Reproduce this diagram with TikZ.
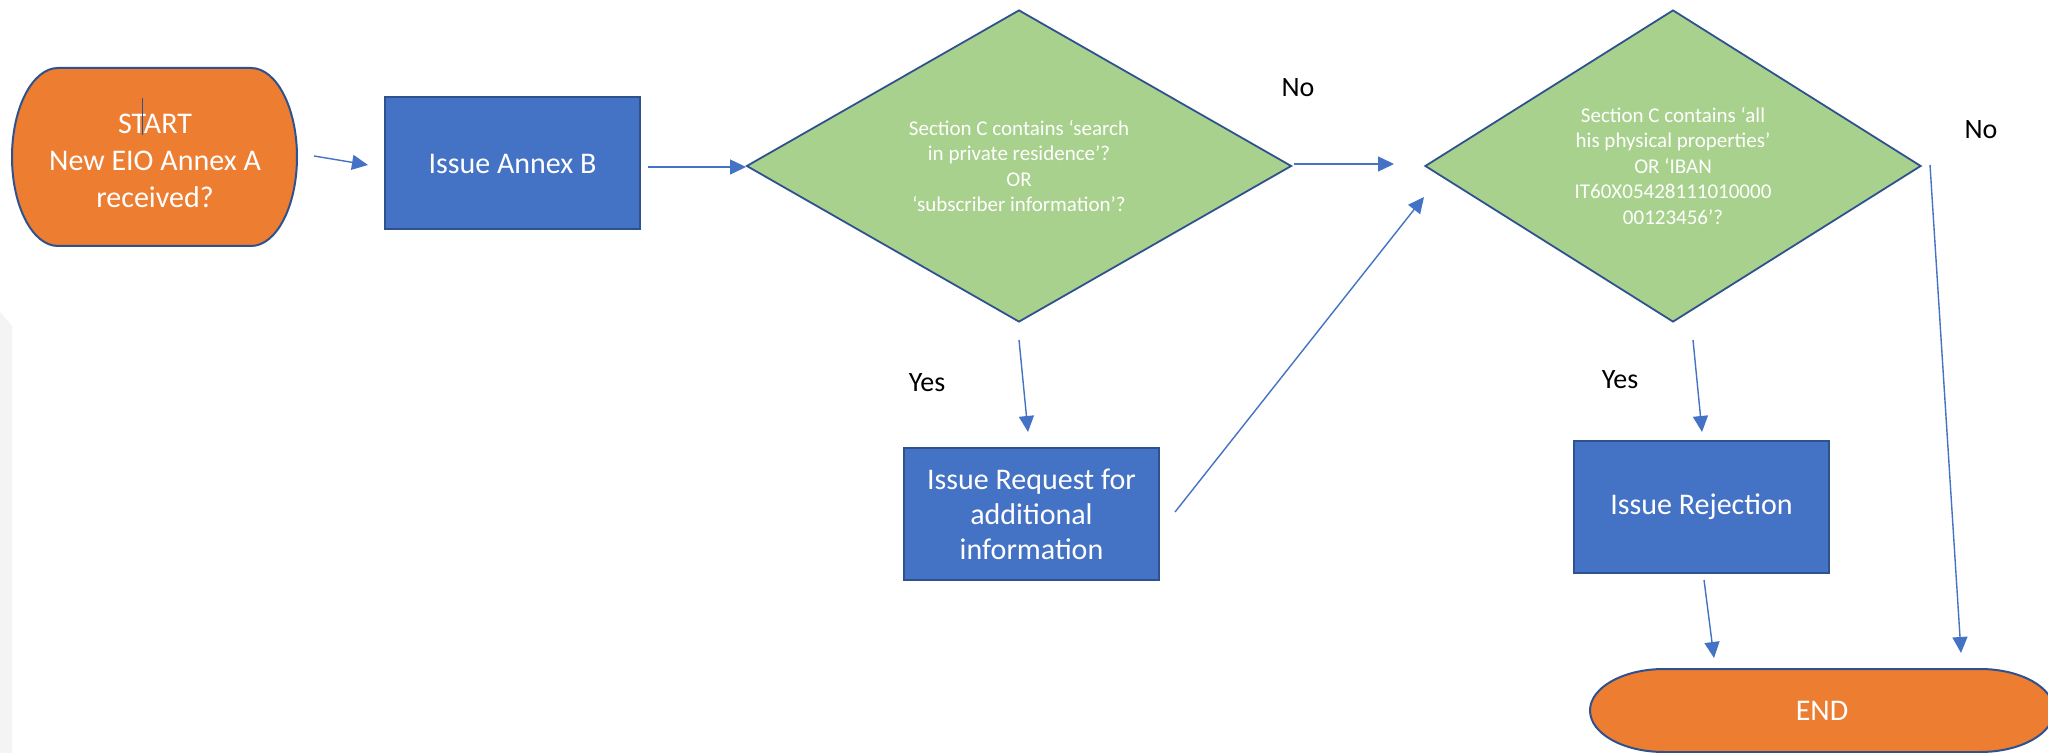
\documentclass[tikz,border=0pt]{standalone}
\usepackage{fontspec}
\setmainfont{Carlito}
\usetikzlibrary{shapes.geometric,arrows.meta}
\definecolor{orng}{HTML}{ED7D31}
\definecolor{bfill}{HTML}{4472C4}
\definecolor{bline}{HTML}{2F528F}
\definecolor{gfill}{HTML}{A9D18E}
\begin{document}
\begin{tikzpicture}[x=0.5pt,y=-0.5pt,
  box/.style={rectangle, draw=bline, fill=bfill, line width=1pt, text=white,
    font=\fontsize{15}{17.5}\selectfont, align=center, inner sep=0pt,
    minimum width=127.5pt, minimum height=66pt},
  dec/.style={diamond, aspect=1.6, draw=bline, fill=gfill, line width=0.9pt, text=white,
    font=\fontsize{10.5}{12.75}\selectfont, align=center, inner sep=0pt},
  term/.style={draw=bline, fill=orng, line width=1pt},
  termtext/.style={text=white, font=\fontsize{15}{18.5}\selectfont, align=center, inner sep=0pt},
  lbl/.style={text=black, font=\fontsize{14}{16}\selectfont, inner sep=0pt},
  arr/.style={draw=bfill, line width=0.7pt, -{Triangle[length=8pt,width=7.5pt]}}]
\useasboundingbox (0,0) rectangle (2048,753);
\fill[white] (0,0) rectangle (2048,753);
% faint slide background at left edge
\fill[gray!9] (0,312) -- (12,326) -- (12,753) -- (0,753) -- cycle;

% START terminator
\path[term] (58,68) -- (251,68) arc[start angle=90, end angle=-90, x radius=23pt, y radius=44.5pt]
  -- (58,246) arc[start angle=270, end angle=90, x radius=23pt, y radius=44.5pt] -- cycle;
\node[termtext] (start) at (155,161) {START\\New EIO Annex A\\received?};
\draw[bline, line width=0.4pt] (142,98) -- (142,135);

% END terminator
\path[term] (1664,669) -- (1980,669) arc[start angle=90, end angle=-90, x radius=37pt, y radius=41.5pt/2]
  -- (1664,752) arc[start angle=270, end angle=90, x radius=37pt, y radius=41.5pt/2] -- cycle;
\node[termtext] (endn) at (1822,711) {END};

% boxes
\node[box] (annexB) at (512.5,163.5) {Issue Annex B};
\node[box] (request) at (1031.5,514) {Issue Request for\\additional\\information};
\node[box] (reject) at (1701.5,507) {Issue Rejection};

% diamonds
\node[dec, minimum width=272.5pt, minimum height=156pt] (d1) at (1019,166)
  {Section C contains ‘search\\in private residence’?\\OR\\‘subscriber information’?};
\node[dec, minimum width=248pt, minimum height=156pt] (d2) at (1673,166)
  {Section C contains ‘all\\his physical properties’\\OR ‘IBAN\\IT60X05428111010000\\00123456’?};

% labels
\node[lbl] (no1) at (1298,88) {No};
\node[lbl] (no2) at (1981,130) {No};
\node[lbl] (yes1) at (927,383) {Yes};
\node[lbl] (yes2) at (1620,380) {Yes};

% connector end points
\coordinate (s1) at (314,156);  \coordinate (e1) at (368,165);
\coordinate (s2) at (648,167);  \coordinate (e2) at (746,167);
\coordinate (s3) at (1294,164); \coordinate (e3) at (1394,164);
\coordinate (s4) at (1019,340); \coordinate (e4) at (1028,432);
\coordinate (s5) at (1175,512); \coordinate (e5) at (1424,197);
\coordinate (s6) at (1693,340); \coordinate (e6) at (1702,432);
\coordinate (s7) at (1704,580); \coordinate (e7) at (1714,658);
\coordinate (s8) at (1930,165); \coordinate (e8) at (1961,653);

\draw[arr] (s1) -- (e1);
\draw[arr] (s2) -- (e2);
\draw[arr] (s3) -- (e3);
\draw[arr] (s4) -- (e4);
\draw[arr] (s5) -- (e5);
\draw[arr] (s6) -- (e6);
\draw[arr] (s7) -- (e7);
\draw[arr] (s8) -- (e8);
\end{tikzpicture}
\end{document}
